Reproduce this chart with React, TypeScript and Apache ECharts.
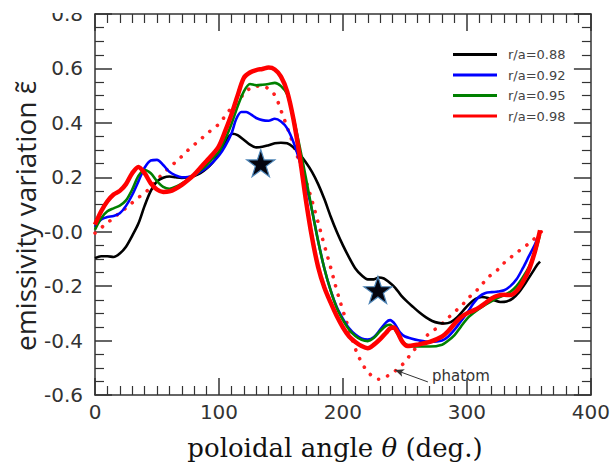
import React, { useEffect, useRef } from 'react';
import * as echarts from 'echarts';

const seriesNames = ['r/a=0.88', 'r/a=0.92', 'r/a=0.95', 'r/a=0.98'];
const seriesColors = ['#000000', '#0000ff', '#008000', '#ff0000'];

const xTickLabels = ['0', '100', '200', '300', '400'];
const yTickLabels = ['-0.6', '-0.4', '-0.2', '-0.0', '0.2', '0.4', '0.6', '0.8'];

const r088 = [
  [0, -0.097], [5, -0.09], [10, -0.09], [15, -0.093], [20, -0.08], [25, -0.055], [30, -0.015],
  [35, 0.03], [40, 0.095], [45, 0.15], [50, 0.185], [55, 0.198], [60, 0.203], [65, 0.2],
  [70, 0.198], [75, 0.2], [80, 0.205], [85, 0.215], [90, 0.232], [95, 0.255], [100, 0.285],
  [104, 0.318], [108, 0.35], [111, 0.36], [115, 0.355], [120, 0.338], [125, 0.32], [130, 0.31],
  [135, 0.312], [140, 0.318], [145, 0.325], [150, 0.327], [155, 0.325], [160, 0.31], [165, 0.285],
  [170, 0.255], [175, 0.22], [180, 0.175], [185, 0.12], [190, 0.057], [195, 0.0], [200, -0.05],
  [205, -0.095], [210, -0.135], [215, -0.16], [220, -0.175], [225, -0.175], [229, -0.168],
  [233, -0.172], [237, -0.185], [242, -0.205], [247, -0.235], [252, -0.258], [257, -0.278],
  [262, -0.298], [267, -0.315], [272, -0.328], [277, -0.335], [282, -0.337], [287, -0.332],
  [292, -0.315], [297, -0.29], [302, -0.265], [307, -0.247], [312, -0.24], [317, -0.244],
  [322, -0.252], [327, -0.258], [332, -0.256], [337, -0.245], [342, -0.222], [347, -0.19],
  [352, -0.155], [357, -0.12], [359, -0.11],
];

const r092 = [
  [0, 0.017], [5, 0.045], [10, 0.054], [15, 0.058], [20, 0.068], [25, 0.095], [30, 0.135],
  [35, 0.185], [40, 0.235], [45, 0.262], [50, 0.264], [55, 0.245], [60, 0.22], [65, 0.207],
  [70, 0.2], [75, 0.201], [80, 0.208], [85, 0.22], [90, 0.234], [95, 0.255], [100, 0.28],
  [105, 0.315], [110, 0.36], [114, 0.415], [118, 0.44], [122, 0.44], [126, 0.43], [130, 0.418],
  [135, 0.41], [140, 0.408], [145, 0.415], [150, 0.405], [155, 0.38], [160, 0.33], [165, 0.26],
  [170, 0.175], [175, 0.08], [180, -0.035], [185, -0.135], [190, -0.215], [195, -0.277],
  [200, -0.32], [205, -0.355], [210, -0.378], [215, -0.392], [220, -0.396], [225, -0.387],
  [230, -0.36], [235, -0.332], [238, -0.325], [242, -0.34], [246, -0.37], [250, -0.385],
  [255, -0.392], [260, -0.398], [270, -0.405], [280, -0.4], [285, -0.385], [290, -0.36],
  [295, -0.33], [300, -0.3], [305, -0.265], [310, -0.238], [315, -0.225], [320, -0.222],
  [325, -0.22], [330, -0.215], [335, -0.2], [340, -0.175], [345, -0.135], [350, -0.09],
  [355, -0.045], [359, 0.0],
];

const r095 = [
  [0, 0.007], [5, 0.05], [10, 0.075], [15, 0.086], [20, 0.096], [25, 0.115], [30, 0.155],
  [35, 0.205], [40, 0.227], [45, 0.215], [50, 0.186], [55, 0.165], [60, 0.158], [65, 0.165],
  [70, 0.177], [75, 0.19], [80, 0.207], [85, 0.225], [90, 0.245], [95, 0.27], [100, 0.295],
  [105, 0.34], [110, 0.395], [115, 0.46], [120, 0.515], [125, 0.543], [130, 0.538], [135, 0.54],
  [140, 0.543], [145, 0.547], [150, 0.535], [155, 0.505], [160, 0.42], [165, 0.315], [170, 0.2],
  [175, 0.08], [180, -0.035], [185, -0.135], [190, -0.215], [195, -0.28], [200, -0.325],
  [205, -0.36], [210, -0.383], [215, -0.397], [220, -0.402], [225, -0.39], [230, -0.365],
  [235, -0.345], [238, -0.342], [242, -0.36], [246, -0.39], [250, -0.412], [255, -0.42],
  [260, -0.422], [270, -0.422], [280, -0.415], [285, -0.4], [290, -0.38], [295, -0.35],
  [300, -0.32], [305, -0.3], [310, -0.283], [315, -0.268], [320, -0.255], [325, -0.243],
  [330, -0.233], [335, -0.221], [340, -0.2], [345, -0.168], [350, -0.13], [355, -0.075],
  [359, -0.01],
];

const r098 = [
  [0, 0.026], [5, 0.075], [10, 0.112], [15, 0.137], [20, 0.15], [25, 0.175], [30, 0.215],
  [35, 0.238], [40, 0.215], [45, 0.178], [50, 0.155], [55, 0.146], [60, 0.148], [65, 0.158],
  [70, 0.172], [75, 0.19], [80, 0.21], [85, 0.235], [90, 0.26], [95, 0.285], [100, 0.315],
  [105, 0.37], [110, 0.43], [115, 0.5], [120, 0.565], [125, 0.585], [130, 0.594], [135, 0.598],
  [140, 0.603], [145, 0.596], [150, 0.57], [155, 0.515], [160, 0.415], [165, 0.28], [170, 0.12],
  [175, -0.02], [180, -0.13], [185, -0.205], [190, -0.26], [195, -0.31], [200, -0.352],
  [205, -0.385], [210, -0.405], [215, -0.42], [220, -0.428], [225, -0.415], [230, -0.395],
  [235, -0.37], [238, -0.355], [241, -0.352], [244, -0.37], [248, -0.405], [252, -0.42],
  [260, -0.415], [270, -0.405], [280, -0.385], [285, -0.365], [290, -0.338], [295, -0.315],
  [300, -0.3], [305, -0.29], [310, -0.278], [315, -0.262], [320, -0.245], [325, -0.235],
  [330, -0.232], [335, -0.233], [340, -0.218], [345, -0.185], [350, -0.14], [355, -0.07],
  [359, 0.005],
];

const phantom = [
  [0, -0.005], [7, 0.022], [14, 0.047], [20, 0.07], [27, 0.094], [33, 0.119], [41, 0.146],
  [48, 0.18], [55, 0.215], [63, 0.248], [70, 0.277], [76, 0.304], [83, 0.331], [89, 0.355],
  [95, 0.378], [101, 0.4], [106, 0.433], [112, 0.464], [117, 0.49], [123, 0.52], [130, 0.535],
  [137, 0.532], [143, 0.514], [147, 0.483], [150, 0.446], [155, 0.384], [160, 0.32], [166, 0.24],
  [172, 0.16], [179, 0.05], [185, -0.05], [190, -0.13], [195, -0.215], [200, -0.29],
  [205, -0.36], [210, -0.43], [215, -0.48], [221, -0.52], [229, -0.542], [236, -0.53],
  [244, -0.505], [250, -0.478], [255, -0.448], [262, -0.41], [270, -0.372], [277, -0.35],
  [284, -0.32], [290, -0.295], [296, -0.27], [302, -0.24], [308, -0.215], [314, -0.184],
  [319, -0.16], [326, -0.135], [331, -0.11], [338, -0.085], [345, -0.06], [352, -0.036],
  [360, 0.0],
];

const stars = [[133.7, 0.252], [228.2, -0.214]];

const arrowFrom = [268.5, -0.552];
const arrowTo = [242, -0.508];

const starPath =
  'path://M50,0 L61.8,35.4 L99,35.4 L69,57.3 L80.3,92.7 L50,70.8 L19.7,92.7 L31,57.3 L1,35.4 L38.2,35.4 Z';

function yLabel(v: number): string {
  const idx = Math.round((v + 0.6) / 0.2);
  return yTickLabels[idx] ?? v.toFixed(1);
}
function xLabel(v: number): string {
  const idx = Math.round(v / 100);
  return xTickLabels[idx] ?? String(v);
}

const frame = { color: '#333333', width: 1.5 };

function makeOption(): any {
  const dataSets = [r088, r092, r095, r098];
  const widths = [2.6, 2.6, 2.6, 4.5];
  const lines = dataSets.map((d, i) => ({
    type: 'line',
    name: seriesNames[i],
    data: d,
    smooth: 0.3,
    symbol: 'none',
    showSymbol: false,
    lineStyle: { color: seriesColors[i], width: widths[i] },
    itemStyle: { color: seriesColors[i] },
    z: 3 + i,
  }));
  const xBase = {
    type: 'value',
    min: 0,
    max: 400,
    interval: 100,
    splitLine: { show: false },
    axisLine: { show: true, onZero: false, lineStyle: frame },
    axisTick: { show: true, inside: true, length: 17, lineStyle: frame },
    minorTick: { show: true, splitNumber: 10, length: 9, lineStyle: { color: '#333333', width: 1.2 } },
  };
  const yBase = {
    type: 'value',
    min: -0.6,
    max: 0.8,
    interval: 0.2,
    splitLine: { show: false },
    axisLine: { show: true, onZero: false, lineStyle: frame },
    axisTick: { show: true, inside: true, length: 17, lineStyle: frame },
    minorTick: { show: true, splitNumber: 4, length: 9, lineStyle: { color: '#333333', width: 1.2 } },
  };
  return {
    animation: false,
    backgroundColor: '#ffffff',
    grid: { left: 95, right: 19, top: 14, bottom: 68, containLabel: false },
    xAxis: [
      {
        ...xBase,
        position: 'bottom',
        axisLabel: {
          margin: 7,
          fontSize: 20,
          fontFamily: 'DejaVu Sans',
          color: '#333333',
          formatter: xLabel,
        },
      },
      { ...xBase, position: 'top', axisLabel: { show: false } },
    ],
    yAxis: [
      {
        ...yBase,
        position: 'left',
        axisLabel: {
          margin: 12,
          fontSize: 20,
          fontFamily: 'DejaVu Sans',
          color: '#333333',
          formatter: yLabel,
        },
      },
      { ...yBase, position: 'right', axisLabel: { show: false } },
    ],
    legend: {
      data: seriesNames,
      orient: 'vertical',
      left: 448,
      top: 43,
      icon: 'rect',
      itemWidth: 44,
      itemHeight: 3,
      itemGap: 7.5,
      textStyle: { fontSize: 13, fontFamily: 'DejaVu Sans', color: '#444444', padding: [0, 0, 0, 6] },
    },
    series: [
      {
        type: 'line',
        name: 'phantom',
        data: phantom,
        smooth: 0.35,
        symbol: 'none',
        showSymbol: false,
        lineStyle: { color: '#ff2020', width: 3.6, type: [0.1, 9.5], cap: 'round' },
        z: 2,
        markLine: {
          silent: true,
          symbol: ['none', 'arrow'],
          symbolSize: [6, 9],
          lineStyle: { color: '#333333', width: 1, type: 'solid' },
          label: { show: false },
          data: [[{ coord: arrowFrom }, { coord: arrowTo }]],
        },
      },
      ...lines,
      {
        type: 'scatter',
        name: 'stars',
        data: stars,
        symbol: starPath,
        symbolSize: [28, 27],
        itemStyle: { color: '#05050f', borderColor: '#4f86b8', borderWidth: 1.2, opacity: 1 },
        z: 10,
      },
    ],
    graphic: [
      {
        type: 'rect',
        left: 0,
        top: 0,
        shape: { width: 92, height: 13 },
        style: { fill: '#ffffff' },
        z: 100,
      },
      {
        type: 'text',
        x: 25,
        y: 216,
        rotation: Math.PI / 2,
        style: {
          text: 'emissivity variation ε\u0303',
          fontSize: 28,
          fontFamily: 'Open Sans',
          fill: '#222222',
          align: 'center',
          verticalAlign: 'middle',
        },
      },
      {
        type: 'text',
        x: 335,
        y: 448,
        style: {
          text: '{a|poloidal angle }{b|θ}{a| (deg.)}',
          rich: {
            a: { fontSize: 26, fontFamily: 'DejaVu Serif', fill: '#111111' },
            b: { fontSize: 26, fontFamily: 'DejaVu Serif', fontStyle: 'italic', fill: '#111111' },
          },
          align: 'center',
          verticalAlign: 'middle',
        },
      },
      {
        type: 'text',
        x: 432,
        y: 376,
        style: {
          text: 'phatom',
          fontSize: 15,
          fontFamily: 'DejaVu Sans',
          fill: '#333333',
          align: 'left',
          verticalAlign: 'middle',
        },
      },
    ],
  };
}

export default function App() {
  const ref = useRef<HTMLDivElement>(null);
  useEffect(() => {
    document.body.style.margin = '0';
    const chart = echarts.init(ref.current as HTMLDivElement, undefined, { renderer: 'svg' });
    chart.setOption(makeOption());
    return () => {
      chart.dispose();
    };
  }, []);
  return <div ref={ref} style={{ width: 613, height: 463 }} />;
}
